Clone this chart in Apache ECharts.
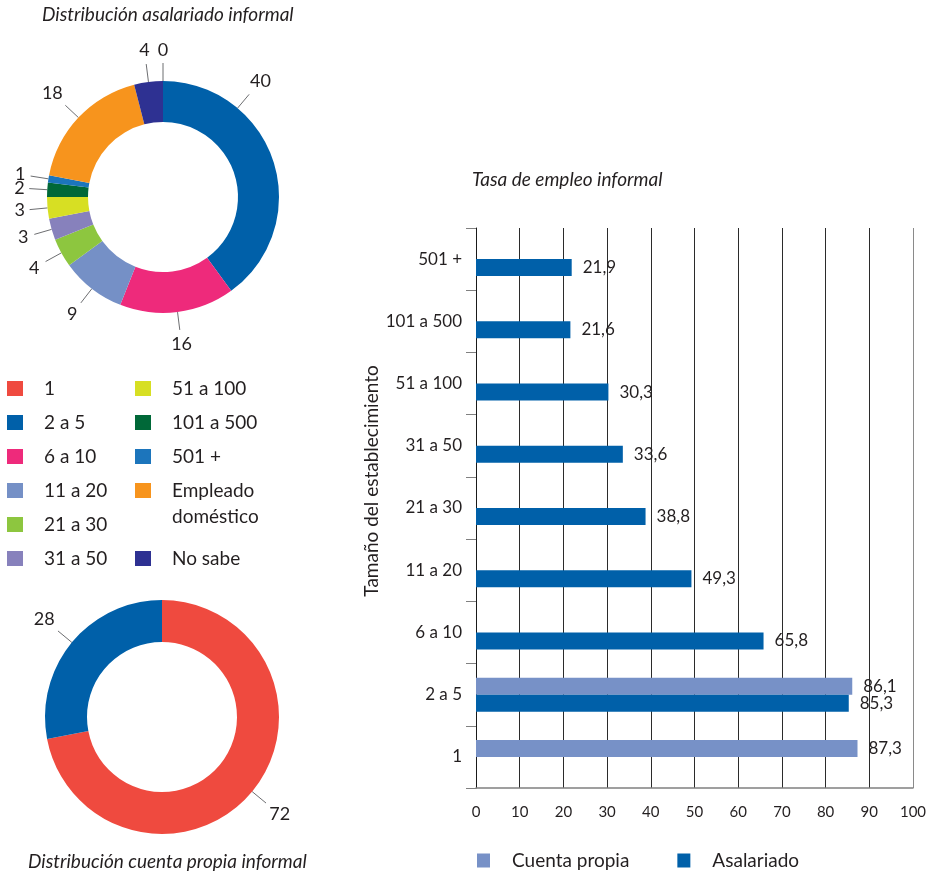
<!DOCTYPE html>
<html>
<head>
<meta charset="utf-8">
<script src="https://cdn.jsdelivr.net/npm/echarts@6/dist/echarts.min.js"></script>
<style>
  html, body { margin: 0; padding: 0; background: #ffffff; }
  #chart { width: 934px; height: 877px; }
</style>
</head>
<body>
<div id="chart"></div>
<script>
// Distribution of informal wage earners by establishment size (%)
const ringCategories = ['1', '2 a 5', '6 a 10', '11 a 20', '21 a 30', '31 a 50',
  '51 a 100', '101 a 500', '501 +', 'Empleado doméstico', 'No sabe'];
const asalariadoShare = [0, 40, 16, 9, 4, 3, 3, 2, 1, 18, 4];

// Distribution of informal self-employed (%)
const cuentaPropiaCategories = ['1', '2 a 5'];
const cuentaPropiaShare = [72, 28];

// Informal employment rate by establishment size (%)
const barCategories = ['1', '2 a 5', '6 a 10', '11 a 20', '21 a 30', '31 a 50',
  '51 a 100', '101 a 500', '501 +'];
const cuentaPropiaRate = [87.3, 86.1, null, null, null, null, null, null, null];
const asalariadoRate = [null, 85.3, 65.8, 49.3, 38.8, 33.6, 30.3, 21.6, 21.9];

// Rate axis range
const rateMin = 0;
const rateMax = 100;
const rateStep = 10;

// Colours per category
const categoryColors = {
  '1': '#EF4A3F',
  '2 a 5': '#0060A9',
  '6 a 10': '#EE2A7B',
  '11 a 20': '#7590C6',
  '21 a 30': '#8DC63F',
  '31 a 50': '#8781BC',
  '51 a 100': '#D7DF23',
  '101 a 500': '#006838',
  '501 +': '#1C75BC',
  'Empleado doméstico': '#F7941D',
  'No sabe': '#2E3192'
};
const seriesColors = { 'Cuenta propia': '#7791C7', 'Asalariado': '#0060A9' };
// vertical grid lines: dark inside, the closing line at the right edge in grey
const gridLineColors = ['#1a1a1a', '#2b2b2b', '#2b2b2b', '#2b2b2b', '#2b2b2b', '#2b2b2b',
  '#2b2b2b', '#2b2b2b', '#2b2b2b', '#2b2b2b', '#8a8a8a'];

const FONT = 'Lato';
const INK = '#231f20';

// Ring geometry; the big "2 a 5" slice of the upper ring carries its label near the top of the arc
const topRing = { center: [163, 197], radius: [75, 116], labelAngle: { '2 a 5': 40 } };
const bottomRing = { center: [162, 717], radius: [75, 117], labelAngle: {} };
const leaderLength = 18;
const leaderGap = 4;

// Places each ring label straight out along the radius, past a short leader line
function radialLabels(ring, names) {
  const cx = ring.center[0], cy = ring.center[1], r = ring.radius[1];
  return function (params) {
    const pts = params.labelLinePoints;
    if (!pts || !pts[0]) return {};
    let ang = Math.atan2(pts[0][1] - cy, pts[0][0] - cx);
    const fixed = ring.labelAngle[names[params.dataIndex]];
    if (fixed != null) ang = (fixed - 90) * Math.PI / 180;
    const dx = Math.cos(ang), dy = Math.sin(ang);
    const a = [cx + r * dx, cy + r * dy];
    const b = [cx + (r + leaderLength) * dx, cy + (r + leaderLength) * dy];
    const w = params.labelRect.width, h = params.labelRect.height;
    const reach = leaderGap + Math.abs(dx) * w / 2 + Math.abs(dy) * h / 2;
    return {
      x: b[0] + dx * reach,
      y: b[1] + dy * reach,
      align: 'center',
      verticalAlign: 'middle',
      labelLinePoints: [a, b, b]
    };
  };
}

function ringSeries(ring, names, values) {
  return {
    type: 'pie',
    center: ring.center,
    radius: ring.radius,
    startAngle: 90,
    clockwise: true,
    avoidLabelOverlap: false,
    emphasis: { scale: false },
    itemStyle: { borderWidth: 0 },
    data: names.map((n, i) => ({ name: n, value: values[i], itemStyle: { color: categoryColors[n] } })),
    label: { show: true, formatter: '{c}', fontFamily: FONT, fontSize: 18, color: INK },
    labelLine: { show: true, length: leaderLength, length2: 0, lineStyle: { color: '#6d6e71', width: 1 } },
    labelLayout: radialLabels(ring, names)
  };
}

const titleStyle = { fontFamily: FONT, fontStyle: 'italic', fontWeight: 'normal', fontSize: 19, color: INK, lineHeight: 22 };
const legendText = { fontFamily: FONT, fontSize: 19, color: INK, lineHeight: 22, padding: [0, 0, 0, 16] };
const ringLegend = {
  orient: 'vertical', padding: 0, itemWidth: 16, itemHeight: 15, itemGap: 12,
  icon: 'rect', selectedMode: false, textStyle: legendText
};

const rateLabel = {
  show: true, position: 'right', distance: 11,
  fontFamily: FONT, fontSize: 17, color: INK,
  formatter: p => String(p.value).replace('.', ',')
};

const option = {
  backgroundColor: '#ffffff',
  animation: false,
  textStyle: { fontFamily: FONT },
  title: [
    { text: 'Distribución asalariado informal', left: 42, top: 4, padding: 0, textStyle: titleStyle },
    { text: 'Tasa de empleo informal', left: 472, top: 169, padding: 0, textStyle: titleStyle },
    { text: 'Distribución cuenta propia informal', left: 28, top: 851, padding: 0, textStyle: titleStyle }
  ],
  legend: [
    Object.assign({}, ringLegend, { left: 7, top: 377.5, data: ringCategories.slice(0, 6) }),
    Object.assign({}, ringLegend, { left: 135, top: 377.5, data: ringCategories.slice(6, 9) }),
    Object.assign({}, ringLegend, {
      left: 135, top: 451.5, data: ['Empleado doméstico'],
      // blank first line keeps the first word level with the swatch
      formatter: n => '\n' + n.replace(' ', '\n'),
      textStyle: Object.assign({}, legendText, { lineHeight: 26 })
    }),
    Object.assign({}, ringLegend, { left: 135, top: 547.5, data: ['No sabe'] }),
    {
      orient: 'horizontal', left: 477, top: 851, padding: 0,
      itemWidth: 13, itemHeight: 14, itemGap: 48, icon: 'rect', selectedMode: false,
      data: ['Cuenta propia', 'Asalariado'],
      textStyle: { fontFamily: FONT, fontSize: 19, color: INK, padding: [0, 0, 0, 17] }
    }
  ],
  grid: { left: 476, right: 21, top: 228, bottom: 89, containLabel: false, outerBoundsMode: 'none' },
  xAxis: {
    type: 'value', min: rateMin, max: rateMax, interval: rateStep,
    axisLine: { show: true, lineStyle: { color: '#808080', width: 1.5 } },
    axisTick: { show: false },
    axisLabel: { margin: 17, fontFamily: FONT, fontSize: 15, color: INK },
    splitLine: { show: true, lineStyle: { color: gridLineColors, width: 1 } }
  },
  yAxis: {
    type: 'category', data: barCategories,
    axisLine: { show: true, lineStyle: { color: '#1a1a1a', width: 1 } },
    axisTick: { show: true, length: 10, lineStyle: { color: '#808080' } },
    axisLabel: { margin: 14, fontFamily: FONT, fontSize: 17, color: INK },
    splitLine: { show: false },
    name: 'Tamaño del establecimiento',
    nameLocation: 'middle', nameRotate: 90, nameGap: 95,
    nameTextStyle: { fontFamily: FONT, fontSize: 19, color: INK, padding: [0, 0, 0, 54] }
  },
  series: [
    ringSeries(topRing, ringCategories, asalariadoShare),
    ringSeries(bottomRing, cuentaPropiaCategories, cuentaPropiaShare),
    {
      type: 'bar', name: 'Cuenta propia', data: cuentaPropiaRate,
      barWidth: 17, barGap: '0%',
      itemStyle: { color: seriesColors['Cuenta propia'] },
      label: rateLabel
    },
    {
      type: 'bar', name: 'Asalariado', data: asalariadoRate,
      barWidth: 17, barGap: '0%',
      itemStyle: { color: seriesColors['Asalariado'] },
      label: rateLabel
    }
  ]
};

const chart = echarts.init(document.getElementById('chart'), null, { renderer: 'canvas' });
chart.setOption(option);
</script>
</body>
</html>
